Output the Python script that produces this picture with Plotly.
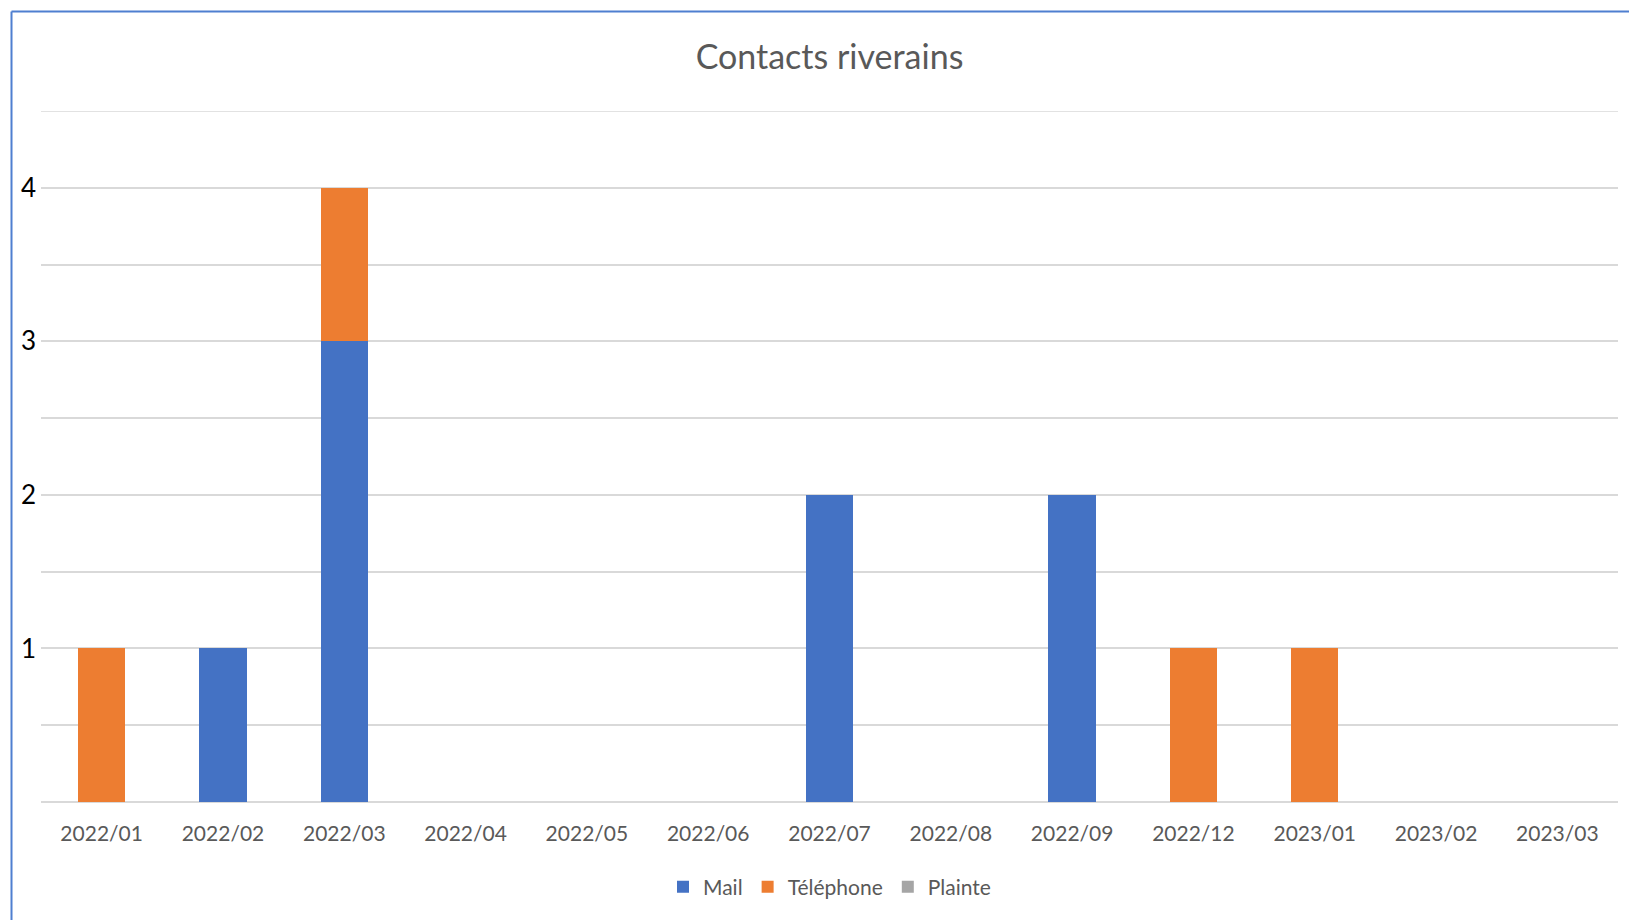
import plotly.graph_objects as go

months = ["2022/01", "2022/02", "2022/03", "2022/04", "2022/05", "2022/06", "2022/07",
          "2022/08", "2022/09", "2022/12", "2023/01", "2023/02", "2023/03"]
mail = [0, 1, 3, 0, 0, 0, 2, 0, 2, 0, 0, 0, 0]
telephone = [1, 0, 1, 0, 0, 0, 0, 0, 0, 1, 1, 0, 0]
plainte = [0, 0, 0, 0, 0, 0, 0, 0, 0, 0, 0, 0, 0]

y_tickvals = [0, 0.5, 1, 1.5, 2, 2.5, 3, 3.5, 4, 4.5]
y_ticktext = ["", "", "1", "", "2", "", "3", "", "4", ""]
y_top = 4.5

W, H = 1629, 920
L, R, T, B = 41, 11, 111, 118
pw, ph = W - L - R, H - T - B

def px_x(p):
    return (p - L) / pw

def px_y(p):
    return (H - B - p) / ph

fig = go.Figure()
fig.add_trace(go.Bar(x=months, y=mail, name="Mail", marker=dict(color="#4472C4", line=dict(width=0))))
fig.add_trace(go.Bar(x=months, y=telephone, name="Téléphone", marker=dict(color="#ED7D31", line=dict(width=0))))
fig.add_trace(go.Bar(x=months, y=plainte, name="Plainte", marker=dict(color="#A5A5A5", line=dict(width=0))))

fig.update_layout(
    width=W, height=H,
    barmode="stack", bargap=0.61,
    paper_bgcolor="white", plot_bgcolor="white",
    margin=dict(l=L, r=R, t=T, b=B),
    font=dict(family="Lato", color="#595959"),
    title=dict(text="Contacts riverains", x=0.5, xref="paper", xanchor="center",
               y=1 - 57 / H, yanchor="middle", font=dict(family="Lato", size=34, color="#595959")),
    legend=dict(orientation="h", x=0.5, xanchor="center", y=px_y(887), yanchor="middle",
                font=dict(family="Lato", size=21, color="#595959"), traceorder="normal",
                itemclick=False, itemwidth=30),
    xaxis=dict(type="category", categoryorder="array", categoryarray=months,
               showgrid=False, zeroline=False, showline=False, ticks="",
               ticklabelstandoff=17,
               tickfont=dict(family="Lato", size=21, color="#595959")),
    yaxis=dict(range=[0, y_top], tickmode="array", tickvals=y_tickvals, ticktext=y_ticktext,
               showgrid=True, gridcolor="#D9D9D9", gridwidth=1.5,
               zeroline=True, zerolinecolor="#D9D9D9", zerolinewidth=1.5,
               showline=False, ticks="", ticklabelstandoff=4,
               tickfont=dict(family="Lato", size=26, color="#000000")),
    showlegend=True,
)

fig.add_shape(type="line", xref="paper", yref="y", x0=0, x1=1, y0=y_top, y1=y_top,
              line=dict(color="#D9D9D9", width=1.5), layer="below")

border = "#4F7FD0"
fig.add_shape(type="line", xref="paper", yref="paper",
              x0=px_x(11.5), x1=px_x(11.5), y0=px_y(11.5), y1=px_y(930),
              line=dict(color=border, width=2))
fig.add_shape(type="line", xref="paper", yref="paper",
              x0=px_x(11.5), x1=px_x(1640), y0=px_y(11.5), y1=px_y(11.5),
              line=dict(color=border, width=2))

fig.write_html("out.html", config={"displayModeBar": False},
               post_script="document.body.style.margin='0';document.body.style.overflow='hidden';")
